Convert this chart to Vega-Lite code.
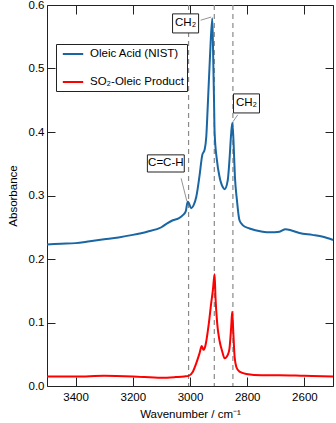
{
  "$schema": "https://vega.github.io/schema/vega-lite/v6.json",
  "width": 286,
  "height": 381,
  "autosize": {"type": "none"},
  "padding": {"left": 47, "top": 5, "right": 3, "bottom": 37},
  "config": {
    "font": "Liberation Sans",
    "view": {"stroke": null},
    "axis": {
      "labelFont": "Liberation Sans",
      "titleFont": "Liberation Sans",
      "labelFontSize": 11.5,
      "titleFontSize": 11.5,
      "titleFontWeight": "normal",
      "labelColor": "#000",
      "titleColor": "#000",
      "domainColor": "#222",
      "tickColor": "#222",
      "domainWidth": 1,
      "tickWidth": 1,
      "grid": false
    },
    "legend": {
      "labelFont": "Liberation Sans",
      "labelFontSize": 11.5,
      "labelColor": "#000"
    }
  },
  "datasets": {
    "spectra": [
      {"w": 3500, "v": 0.223, "s": "Oleic Acid (NIST)"},
      {"w": 3450, "v": 0.224, "s": "Oleic Acid (NIST)"},
      {"w": 3400, "v": 0.225, "s": "Oleic Acid (NIST)"},
      {"w": 3350, "v": 0.228, "s": "Oleic Acid (NIST)"},
      {"w": 3300, "v": 0.231, "s": "Oleic Acid (NIST)"},
      {"w": 3250, "v": 0.234, "s": "Oleic Acid (NIST)"},
      {"w": 3200, "v": 0.238, "s": "Oleic Acid (NIST)"},
      {"w": 3150, "v": 0.243, "s": "Oleic Acid (NIST)"},
      {"w": 3100, "v": 0.25, "s": "Oleic Acid (NIST)"},
      {"w": 3080, "v": 0.256, "s": "Oleic Acid (NIST)"},
      {"w": 3060, "v": 0.261, "s": "Oleic Acid (NIST)"},
      {"w": 3040, "v": 0.264, "s": "Oleic Acid (NIST)"},
      {"w": 3025, "v": 0.269, "s": "Oleic Acid (NIST)"},
      {"w": 3015, "v": 0.275, "s": "Oleic Acid (NIST)"},
      {"w": 3008, "v": 0.29, "s": "Oleic Acid (NIST)"},
      {"w": 3004, "v": 0.288, "s": "Oleic Acid (NIST)"},
      {"w": 2996, "v": 0.28, "s": "Oleic Acid (NIST)"},
      {"w": 2988, "v": 0.284, "s": "Oleic Acid (NIST)"},
      {"w": 2978, "v": 0.298, "s": "Oleic Acid (NIST)"},
      {"w": 2967, "v": 0.33, "s": "Oleic Acid (NIST)"},
      {"w": 2957, "v": 0.364, "s": "Oleic Acid (NIST)"},
      {"w": 2949, "v": 0.372, "s": "Oleic Acid (NIST)"},
      {"w": 2943, "v": 0.393, "s": "Oleic Acid (NIST)"},
      {"w": 2938, "v": 0.44, "s": "Oleic Acid (NIST)"},
      {"w": 2930, "v": 0.52, "s": "Oleic Acid (NIST)"},
      {"w": 2922, "v": 0.579, "s": "Oleic Acid (NIST)"},
      {"w": 2919, "v": 0.52, "s": "Oleic Acid (NIST)"},
      {"w": 2916, "v": 0.45, "s": "Oleic Acid (NIST)"},
      {"w": 2914, "v": 0.4, "s": "Oleic Acid (NIST)"},
      {"w": 2906, "v": 0.356, "s": "Oleic Acid (NIST)"},
      {"w": 2897, "v": 0.33, "s": "Oleic Acid (NIST)"},
      {"w": 2885, "v": 0.313, "s": "Oleic Acid (NIST)"},
      {"w": 2879, "v": 0.31, "s": "Oleic Acid (NIST)"},
      {"w": 2868, "v": 0.324, "s": "Oleic Acid (NIST)"},
      {"w": 2862, "v": 0.356, "s": "Oleic Acid (NIST)"},
      {"w": 2856, "v": 0.398, "s": "Oleic Acid (NIST)"},
      {"w": 2852, "v": 0.414, "s": "Oleic Acid (NIST)"},
      {"w": 2848, "v": 0.387, "s": "Oleic Acid (NIST)"},
      {"w": 2843, "v": 0.33, "s": "Oleic Acid (NIST)"},
      {"w": 2836, "v": 0.293, "s": "Oleic Acid (NIST)"},
      {"w": 2827, "v": 0.261, "s": "Oleic Acid (NIST)"},
      {"w": 2815, "v": 0.253, "s": "Oleic Acid (NIST)"},
      {"w": 2792, "v": 0.248, "s": "Oleic Acid (NIST)"},
      {"w": 2746, "v": 0.243, "s": "Oleic Acid (NIST)"},
      {"w": 2720, "v": 0.242, "s": "Oleic Acid (NIST)"},
      {"w": 2687, "v": 0.243, "s": "Oleic Acid (NIST)"},
      {"w": 2666, "v": 0.247, "s": "Oleic Acid (NIST)"},
      {"w": 2645, "v": 0.245, "s": "Oleic Acid (NIST)"},
      {"w": 2617, "v": 0.241, "s": "Oleic Acid (NIST)"},
      {"w": 2572, "v": 0.238, "s": "Oleic Acid (NIST)"},
      {"w": 2535, "v": 0.235, "s": "Oleic Acid (NIST)"},
      {"w": 2500, "v": 0.23, "s": "Oleic Acid (NIST)"},
      {"w": 3500, "v": 0.015, "s": "SO₂-Oleic Product"},
      {"w": 3400, "v": 0.015, "s": "SO₂-Oleic Product"},
      {"w": 3300, "v": 0.016, "s": "SO₂-Oleic Product"},
      {"w": 3200, "v": 0.015, "s": "SO₂-Oleic Product"},
      {"w": 3100, "v": 0.013, "s": "SO₂-Oleic Product"},
      {"w": 3050, "v": 0.014, "s": "SO₂-Oleic Product"},
      {"w": 3020, "v": 0.015, "s": "SO₂-Oleic Product"},
      {"w": 3005, "v": 0.016, "s": "SO₂-Oleic Product"},
      {"w": 2990, "v": 0.0225, "s": "SO₂-Oleic Product"},
      {"w": 2978, "v": 0.036, "s": "SO₂-Oleic Product"},
      {"w": 2967, "v": 0.051, "s": "SO₂-Oleic Product"},
      {"w": 2959, "v": 0.063, "s": "SO₂-Oleic Product"},
      {"w": 2953, "v": 0.057, "s": "SO₂-Oleic Product"},
      {"w": 2947, "v": 0.062, "s": "SO₂-Oleic Product"},
      {"w": 2934, "v": 0.099, "s": "SO₂-Oleic Product"},
      {"w": 2926, "v": 0.13, "s": "SO₂-Oleic Product"},
      {"w": 2920, "v": 0.151, "s": "SO₂-Oleic Product"},
      {"w": 2914, "v": 0.176, "s": "SO₂-Oleic Product"},
      {"w": 2911, "v": 0.141, "s": "SO₂-Oleic Product"},
      {"w": 2905, "v": 0.099, "s": "SO₂-Oleic Product"},
      {"w": 2897, "v": 0.072, "s": "SO₂-Oleic Product"},
      {"w": 2887, "v": 0.054, "s": "SO₂-Oleic Product"},
      {"w": 2879, "v": 0.0436, "s": "SO₂-Oleic Product"},
      {"w": 2868, "v": 0.049, "s": "SO₂-Oleic Product"},
      {"w": 2862, "v": 0.059, "s": "SO₂-Oleic Product"},
      {"w": 2856, "v": 0.093, "s": "SO₂-Oleic Product"},
      {"w": 2852.5, "v": 0.117, "s": "SO₂-Oleic Product"},
      {"w": 2849, "v": 0.088, "s": "SO₂-Oleic Product"},
      {"w": 2844, "v": 0.046, "s": "SO₂-Oleic Product"},
      {"w": 2838, "v": 0.03, "s": "SO₂-Oleic Product"},
      {"w": 2827, "v": 0.0225, "s": "SO₂-Oleic Product"},
      {"w": 2803, "v": 0.019, "s": "SO₂-Oleic Product"},
      {"w": 2750, "v": 0.017, "s": "SO₂-Oleic Product"},
      {"w": 2687, "v": 0.017, "s": "SO₂-Oleic Product"},
      {"w": 2600, "v": 0.016, "s": "SO₂-Oleic Product"},
      {"w": 2500, "v": 0.015, "s": "SO₂-Oleic Product"}
    ],
    "dashes": [{"w": 3005}, {"w": 2915}, {"w": 2850}],
    "leaders": [
      {"w1": 2963, "w2": 2926, "v1": 0.576, "v2": 0.581},
      {"w1": 2833, "w2": 2850, "v1": 0.427, "v2": 0.416},
      {"w1": 3031, "w2": 3011, "v1": 0.327, "v2": 0.291}
    ],
    "labels": [
      {"t": "CH₂", "w1": 3061, "w2": 2970, "v1": 0.556, "v2": 0.586, "wc": 3015.5, "vc": 0.571},
      {"t": "CH₂", "w1": 2848, "w2": 2757, "v1": 0.43, "v2": 0.46, "wc": 2802.5, "vc": 0.445},
      {"t": "C=C-H", "w1": 3149, "w2": 3020, "v1": 0.337, "v2": 0.364, "wc": 3084.5, "vc": 0.3505}
    ]
  },
  "layer": [
    {
      "data": {"name": "dashes"},
      "mark": {"type": "rule", "strokeDash": [5, 4], "color": "#8a8a8a", "strokeWidth": 1.2},
      "encoding": {
        "x": {
          "field": "w", "type": "quantitative",
          "scale": {"domain": [2500, 3500], "reverse": true, "nice": false, "zero": false},
          "axis": {"orient": "top", "labels": false, "title": null, "values": [3400, 3200, 3000, 2800, 2600], "tickSize": -9}
        }
      }
    },
    {
      "data": {"name": "spectra"},
      "mark": {"type": "line", "strokeWidth": 2, "interpolate": "monotone"},
      "encoding": {
        "x": {
          "field": "w", "type": "quantitative",
          "scale": {"domain": [2500, 3500], "reverse": true, "nice": false, "zero": false},
          "axis": {"orient": "bottom", "title": "Wavenumber / cm⁻¹", "values": [3400, 3200, 3000, 2800, 2600], "format": "d", "tickSize": -9, "labelPadding": 14, "titlePadding": 6}
        },
        "y": {
          "field": "v", "type": "quantitative",
          "scale": {"domain": [0, 0.6], "nice": false},
          "axis": {"orient": "left", "title": "Absorbance", "values": [0, 0.1, 0.2, 0.3, 0.4, 0.5, 0.6], "format": ".1f", "tickSize": -8, "labelPadding": 11, "titlePadding": 10}
        },
        "color": {
          "field": "s", "type": "nominal",
          "scale": {"domain": ["Oleic Acid (NIST)", "SO₂-Oleic Product"], "range": ["#1a66a3", "#ff0000"]},
          "legend": {
            "title": null, "orient": "none", "legendX": 9, "legendY": 39,
            "strokeColor": "#222", "fillColor": "#ffffff", "padding": 3,
            "symbolType": "M-1.7,0H1.7", "symbolSize": 144, "symbolStrokeWidth": 2,
            "symbolOffset": 7, "rowPadding": 15, "labelOffset": 10
          }
        }
      }
    },
    {
      "data": {"name": "leaders"},
      "mark": {"type": "rule", "color": "#777", "strokeWidth": 0.8},
      "encoding": {
        "x": {"field": "w1", "type": "quantitative", "axis": null, "scale": {"domain": [2500, 3500], "reverse": true, "nice": false, "zero": false}},
        "x2": {"field": "w2"},
        "y": {"field": "v1", "type": "quantitative", "axis": null, "scale": {"domain": [0, 0.6], "nice": false}},
        "y2": {"field": "v2"}
      }
    },
    {
      "data": {"name": "labels"},
      "mark": {"type": "rect", "fill": "#ffffff", "stroke": "#222", "strokeWidth": 1},
      "encoding": {
        "x": {"field": "w1", "type": "quantitative", "axis": null, "scale": {"domain": [2500, 3500], "reverse": true, "nice": false, "zero": false}},
        "x2": {"field": "w2"},
        "y": {"field": "v1", "type": "quantitative", "axis": null, "scale": {"domain": [0, 0.6], "nice": false}},
        "y2": {"field": "v2"}
      }
    },
    {
      "data": {"name": "labels"},
      "mark": {"type": "text", "fontSize": 11.5, "font": "Liberation Sans", "color": "#000", "align": "center", "baseline": "middle"},
      "encoding": {
        "x": {"field": "wc", "type": "quantitative", "axis": null, "scale": {"domain": [2500, 3500], "reverse": true, "nice": false, "zero": false}},
        "y": {
          "field": "vc", "type": "quantitative",
          "scale": {"domain": [0, 0.6], "nice": false},
          "axis": {"orient": "right", "labels": false, "title": null, "values": [0, 0.1, 0.2, 0.3, 0.4, 0.5, 0.6], "tickSize": -8}
        },
        "text": {"field": "t"}
      }
    }
  ],
  "resolve": {"axis": {"x": "independent", "y": "independent"}}
}
